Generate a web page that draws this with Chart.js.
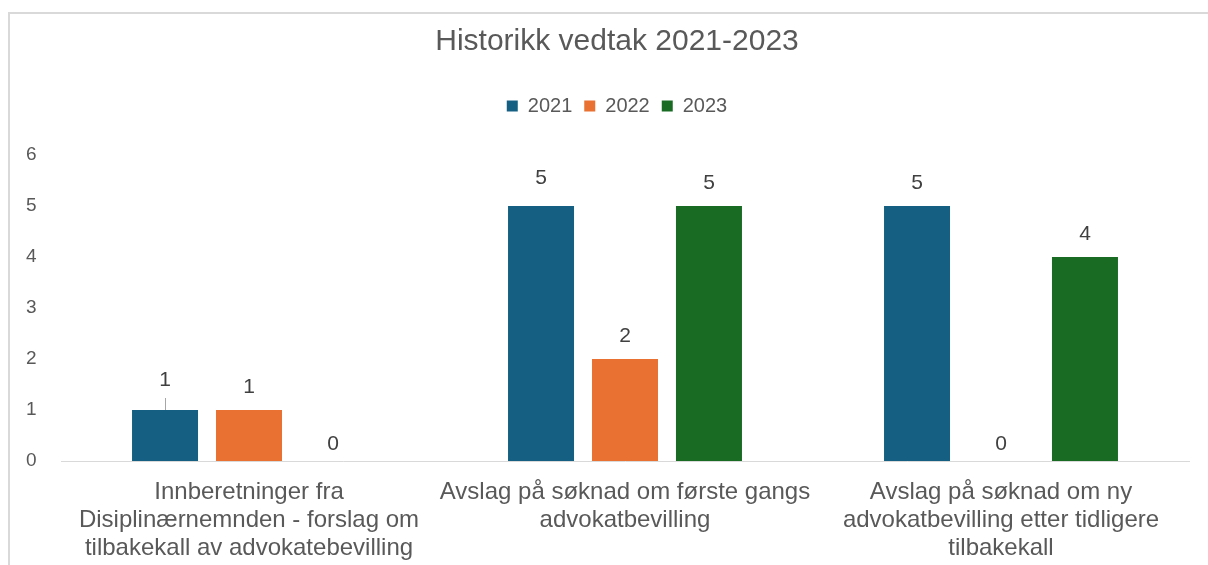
<!DOCTYPE html>
<html lang="no">
<head>
<meta charset="utf-8">
<title>Historikk vedtak 2021-2023</title>
<script src="https://cdn.jsdelivr.net/npm/chart.js@4/dist/chart.umd.min.js"></script>
<style>
  html, body { margin: 0; padding: 0; background: #fff; overflow: hidden; }
  .frame {
    position: absolute; left: 8px; top: 12px;
    width: 1300px; height: 700px;
    border: 2px solid #d9d9d9;
  }
  #chart { position: absolute; left: 0; top: 0; }
</style>
</head>
<body>
<div class="frame"></div>
<canvas id="chart" width="1208" height="565"></canvas>
<script>
// 数据
const chartTitle = 'Historikk vedtak 2021-2023';
const categories = [
  ['Innberetninger fra', 'Disiplinærnemnden - forslag om', 'tilbakekall av advokatebevilling'],
  ['Avslag på søknad om første gangs', 'advokatbevilling'],
  ['Avslag på søknad om ny', 'advokatbevilling etter tidligere', 'tilbakekall']
];
const seriesNames = ['2021', '2022', '2023'];
const values2021 = [1, 5, 5];
const values2022 = [1, 2, 0];
const values2023 = [0, 5, 4];
const yMin = 0;
const yMax = 6;
const yStep = 1;

const seriesColors = ['#156082', '#E97132', '#196B24'];
const fontFamily = '"Liberation Sans", Arial, sans-serif';

// 个别标签上移 (dataset-index)
const labelLift = { '0-0': 7, '0-1': 5 };

// 数值标签
const barValueLabels = {
  id: 'barValueLabels',
  afterDatasetsDraw(chart) {
    const ctx = chart.ctx;
    ctx.save();
    ctx.font = '21px ' + fontFamily;
    ctx.fillStyle = '#404040';
    ctx.textAlign = 'center';
    ctx.textBaseline = 'middle';
    chart.data.datasets.forEach((ds, di) => {
      chart.getDatasetMeta(di).data.forEach((bar, i) => {
        const v = ds.data[i];
        let gap = v === 0 ? 17 : 23;
        const key = di + '-' + i;
        if (key in labelLift) gap += labelLift[key];
        // 引导线
        if (key === '0-0') {
          ctx.strokeStyle = '#a6a6a6';
          ctx.lineWidth = 1;
          ctx.beginPath();
          ctx.moveTo(Math.round(bar.x) + 0.5, bar.y);
          ctx.lineTo(Math.round(bar.x) + 0.5, bar.y - 12);
          ctx.stroke();
        }
        ctx.fillText(String(v), bar.x, bar.y - gap);
      });
    });
    ctx.restore();
  }
};

// 图例下方留白
const legendSpacer = {
  id: 'legendSpacer',
  beforeInit(chart) {
    const fit = chart.legend.fit;
    chart.legend.fit = function () {
      fit.call(this);
      this.height += 29;
    };
  }
};

Chart.defaults.font.family = fontFamily;
Chart.defaults.color = '#595959';

const datasets = [values2021, values2022, values2023].map((vals, i) => ({
  label: seriesNames[i],
  data: vals,
  backgroundColor: seriesColors[i],
  borderWidth: 0,
  categoryPercentage: 0.67,
  barPercentage: 0.786
}));

new Chart(document.getElementById('chart'), {
  type: 'bar',
  data: { labels: categories, datasets },
  options: {
    responsive: false,
    animation: false,
    layout: { padding: { top: 0, left: 26, right: 0, bottom: 3 } },
    plugins: {
      title: {
        display: true,
        text: chartTitle,
        color: '#595959',
        font: { size: 30, weight: 'normal' },
        padding: { top: 24, bottom: 24 }
      },
      legend: {
        display: true,
        position: 'top',
        labels: {
          boxWidth: 11,
          boxHeight: 11,
          padding: 12,
          color: '#595959',
          font: { size: 20 }
        }
      },
      tooltip: { enabled: false }
    },
    scales: {
      x: {
        grid: { display: false, drawTicks: false },
        border: { display: true, color: '#d9d9d9', width: 1 },
        ticks: {
          color: '#595959',
          font: { size: 24, lineHeight: '28px' },
          padding: 17,
          autoSkip: false,
          maxRotation: 0
        },
        afterFit(scale) { scale.height = 101; }
      },
      y: {
        min: yMin,
        max: yMax,
        grid: { display: false, drawTicks: false },
        border: { display: false },
        ticks: {
          stepSize: yStep,
          color: '#595959',
          font: { size: 19 },
          crossAlign: 'far'
        },
        afterFit(scale) { scale.width = 35; }
      },
      yPad: {
        position: 'right',
        grid: { display: false, drawTicks: false },
        border: { display: false },
        ticks: { display: false },
        afterFit(scale) { scale.width = 19; }
      }
    }
  },
  plugins: [legendSpacer, barValueLabels]
});
</script>
</body>
</html>
